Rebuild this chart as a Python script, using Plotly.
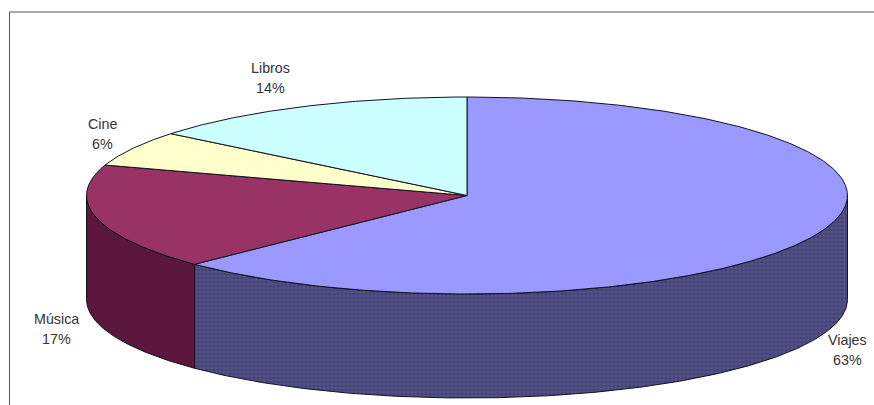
import numpy as np
import plotly.graph_objects as go

categories = ["Viajes", "Música", "Cine", "Libros"]
values = [62.7, 17.3, 5.8, 14.2]
top_colors = ["#9999FF", "#993366", "#FFFFCC", "#CCFFFF"]
side_colors = ["#55557F", "#551A3C", "#80806A", "#6A8080"]
side_dots = ["#28287C", "#6A0A3A", "#80806A", "#6A8080"]

W, H = 874, 405
CX, CY, RX, RY, DEPTH = 467.0, 195.5, 380.5, 98.5, 104.0
EDGE = "#111122"
label_pos = {"Viajes": (847, 349.5), "Música": (56, 328.5), "Cine": (102, 134), "Libros": (270, 78)}
LINE_GAP = 10

def rim(a0, a1, drop=0.0):
    t = np.radians(np.linspace(a0, a1, max(3, int(abs(a1 - a0) * 2) + 1)))
    return CX + RX * np.sin(t), CY - RY * np.cos(t) + drop

fig = go.Figure()
total = sum(values)
edges = np.cumsum([0] + values) / total * 360

# Visible walls: front half of the disc, 90 to 270 degrees clockwise from the top.
for i in range(len(values)):
    a0, a1 = max(edges[i], 90), min(edges[i + 1], 270)
    if a1 <= a0:
        continue
    xt, yt = rim(a0, a1)
    xb, yb = rim(a1, a0, DEPTH)
    fig.add_trace(go.Scatter(
        x=np.r_[xt, xb, xt[0]], y=np.r_[yt, yb, yt[0]], mode="lines", fill="toself",
        fillcolor=side_colors[i], line=dict(color=EDGE, width=1),
        fillpattern=dict(shape="+", size=4, solidity=0.45, fgcolor=side_dots[i], bgcolor=side_colors[i]),
        hoverinfo="skip", showlegend=False))

# Top faces.
for i in range(len(values)):
    xt, yt = rim(edges[i], edges[i + 1])
    fig.add_trace(go.Scatter(
        x=np.r_[CX, xt, CX], y=np.r_[CY, yt, CY], mode="lines", fill="toself",
        fillcolor=top_colors[i], line=dict(color=EDGE, width=1),
        hoverinfo="skip", showlegend=False))

font = dict(family="Liberation Sans", size=14.3, color="#333333")
for c, v in zip(categories, values):
    px, py = label_pos[c]
    for txt, dy in ((c, -LINE_GAP), (f"{v:.0f}%", LINE_GAP)):
        fig.add_annotation(x=px, y=py + dy, text=txt, showarrow=False, xanchor="center", yanchor="middle", font=font)

fig.update_layout(
    width=W, height=H, margin=dict(l=0, r=0, t=0, b=0),
    paper_bgcolor="white", plot_bgcolor="white", showlegend=False,
    xaxis=dict(range=[0, W], visible=False, fixedrange=True),
    yaxis=dict(range=[H, 0], visible=False, fixedrange=True),
    shapes=[
        dict(type="line", xref="x", yref="y", x0=9.5, x1=W, y0=12, y1=12, line=dict(color="#555555", width=1)),
        dict(type="line", xref="x", yref="y", x0=9.5, x1=9.5, y0=12, y1=H, line=dict(color="#555555", width=1)),
    ],
)
fig.write_html("out.html", config=dict(displayModeBar=False),
               post_script="document.body.style.margin='0';document.body.style.overflow='hidden';")
